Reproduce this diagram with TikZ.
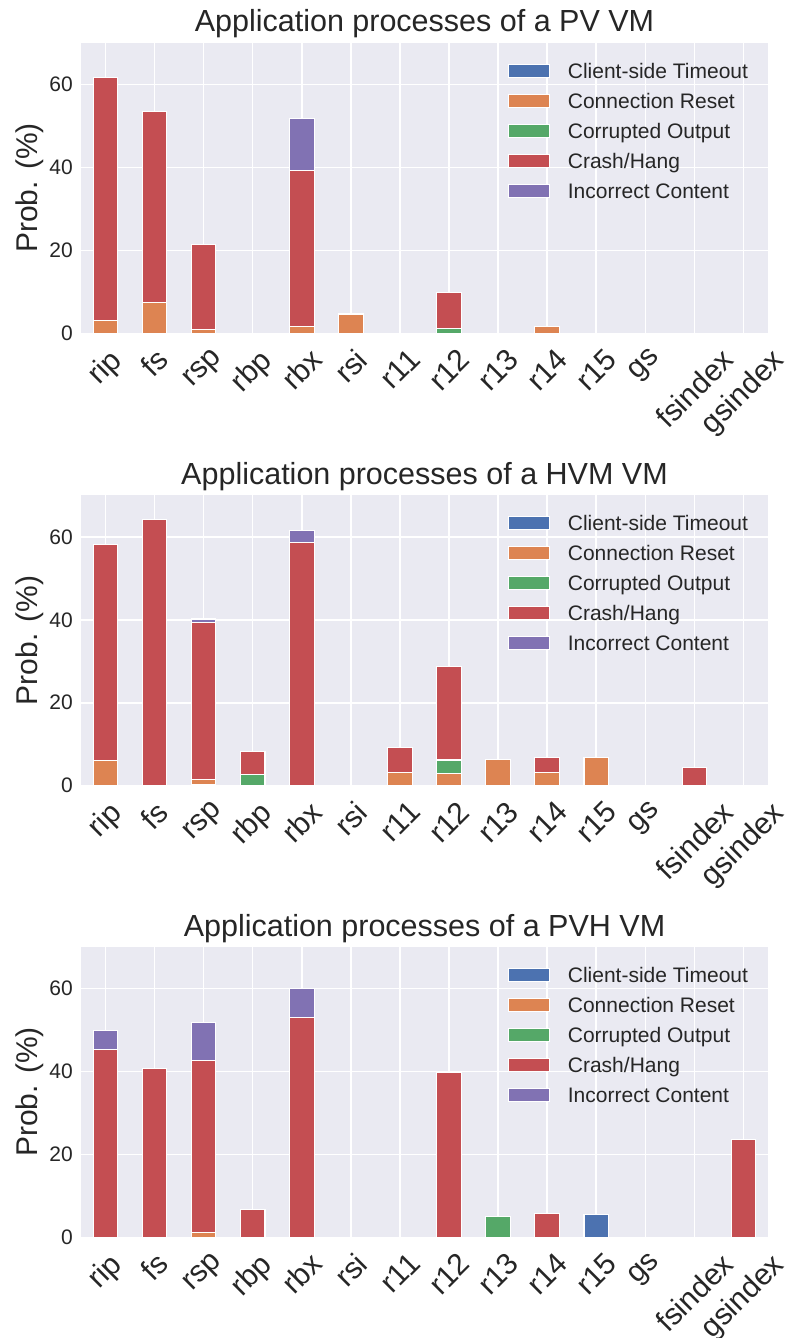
\documentclass[tikz,border=0pt]{standalone}
\usepackage{fontspec}
\setmainfont{Liberation Sans}
\usepackage{graphicx}

\definecolor{cst}{HTML}{4C72B0}
\definecolor{ccr}{HTML}{DD8452}
\definecolor{cco}{HTML}{55A868}
\definecolor{cch}{HTML}{C44E52}
\definecolor{cic}{HTML}{8172B3}
\definecolor{panel}{HTML}{EAEAF2}
\definecolor{ink}{HTML}{262626}

\newcommand\fsz[1]{\fontsize{#1}{#1}\selectfont}

\tikzset{
  gridline/.style={white, line width=1.5pt},
  barline/.style={draw=white, line width=1.1pt},
  titletext/.style={text=ink, inner sep=0pt, font=\fsz{30.5}},
  ylabtext/.style={text=ink, inner sep=0pt, font=\fsz{30}},
  xticktext/.style={text=ink, inner sep=0pt, font=\fsz{30}},
  yticktext/.style={text=ink, inner sep=0pt, font=\fsz{21}},
  legtext/.style={text=ink, inner sep=0pt, font=\fsz{21}},
}

% one stacked segment: colour, lower value, upper value, height
\newcommand\barseg[4]{%
  \ifdim #4pt>0pt
    \filldraw[fill=#1, barline] (\xl,\B-4.147*#2) rectangle (\xr,\B-4.147*#3);
  \fi}

% #1 panel id, #2 top edge, #3 VM type, #4 bars: index/timeout/reset/corrupt/crash/incorrect
\newcommand\drawpanel[4]{%
  \pgfmathsetmacro\T{#2}
  \pgfmathsetmacro\B{#2+290.3}
  \fill[panel] (81,\T) rectangle (768,\B);
  \foreach \v in {0,20,40,60} {
    \draw[gridline] (81,\B-4.147*\v) -- (768,\B-4.147*\v);
    \node[yticktext, anchor=east] (yt#1\v) at (73,\B-4.147*\v) {\v};
  }
  \foreach \i/\lab in {0/rip,1/fs,2/rsp,3/rbp,4/rbx,5/rsi,6/r11,7/r12,8/r13,9/r14,10/r15,11/gs,12/fsindex,13/gsindex} {
    \draw[gridline] (81+49.07*\i+24.535,\T) -- (81+49.07*\i+24.535,\B);
    \node[xticktext, anchor=north] (xt#1\i) at (81+49.07*\i+24.535,\B+13.5) {\rotatebox{45}{\lab}};
  }
  \foreach \i/\a/\b/\c/\d/\e in {#4} {
    \pgfmathsetmacro\xl{81+49.07*\i+24.535-12.27}
    \pgfmathsetmacro\xr{81+49.07*\i+24.535+12.27}
    \pgfmathsetmacro\ya{\a}
    \pgfmathsetmacro\yb{\ya+\b}
    \pgfmathsetmacro\yc{\yb+\c}
    \pgfmathsetmacro\yd{\yc+\d}
    \pgfmathsetmacro\ye{\yd+\e}
    \barseg{cst}{0}{\ya}{\a}
    \barseg{ccr}{\ya}{\yb}{\b}
    \barseg{cco}{\yb}{\yc}{\c}
    \barseg{cch}{\yc}{\yd}{\d}
    \barseg{cic}{\yd}{\ye}{\e}
  }
  \foreach \j/\c/\lab in {0/cst/{Client-side Timeout},1/ccr/{Connection Reset},2/cco/{Corrupted Output},3/cch/{Crash/Hang},4/cic/{Incorrect Content}} {
    \filldraw[fill=\c, draw=white, line width=1.1pt] (508.8,\T+27.7+30*\j-6.6) rectangle (549.5,\T+27.7+30*\j+6.6);
    \node[legtext, anchor=base west] (lg#1\j) at (567.7,\T+27.7+30*\j+7.6) {\lab};
  }
  \node[titletext, anchor=base] (title#1) at (424.5,\T-11) {Application processes of a #3 VM};
  \node[ylabtext, rotate=90, anchor=base] (ylab#1) at (37.5,\T+145) {Prob. (\%)};
}

\begin{document}
\begin{tikzpicture}[x=1pt, y=-1pt]
  \fill[white] (0,0) rectangle (788,1338);
  \useasboundingbox (0,0) rectangle (788,1338);

  \drawpanel{a}{43}{PV}{0/0/3.05/0/58.7/0, 1/0/7.4/0/46.0/0, 2/0/0.9/0/20.6/0, 4/0/1.6/0/37.6/12.5, 5/0/4.65/0/0/0, 7/0/0/1.2/8.6/0, 9/0/1.7/0/0/0}

  \drawpanel{b}{495.4}{HVM}{0/0/6.0/0/52.2/0, 1/0/0/0/64.3/0, 2/0.4/1.2/0/37.8/0.8, 3/0/0/2.65/5.55/0, 4/0/0/0/58.6/2.9, 6/0/3.1/0/6.1/0, 7/0/3.0/3.2/22.5/0, 8/0/6.4/0/0/0, 9/0/3.2/0/3.6/0, 10/0/6.8/0/0/0, 12/0/0/0/4.3/0}

  \drawpanel{c}{947}{PVH}{0/0/0/0/45.2/4.6, 1/0/0/0/40.6/0, 2/0/1.1/0/41.6/9.1, 3/0/0/0/6.8/0, 4/0/0/0/53.1/6.8, 7/0/0/0/39.8/0, 8/0/0/5.1/0/0, 9/0/0/0/5.8/0, 10/5.6/0/0/0/0, 13/0/0/0/23.5/0}
\end{tikzpicture}
\end{document}
